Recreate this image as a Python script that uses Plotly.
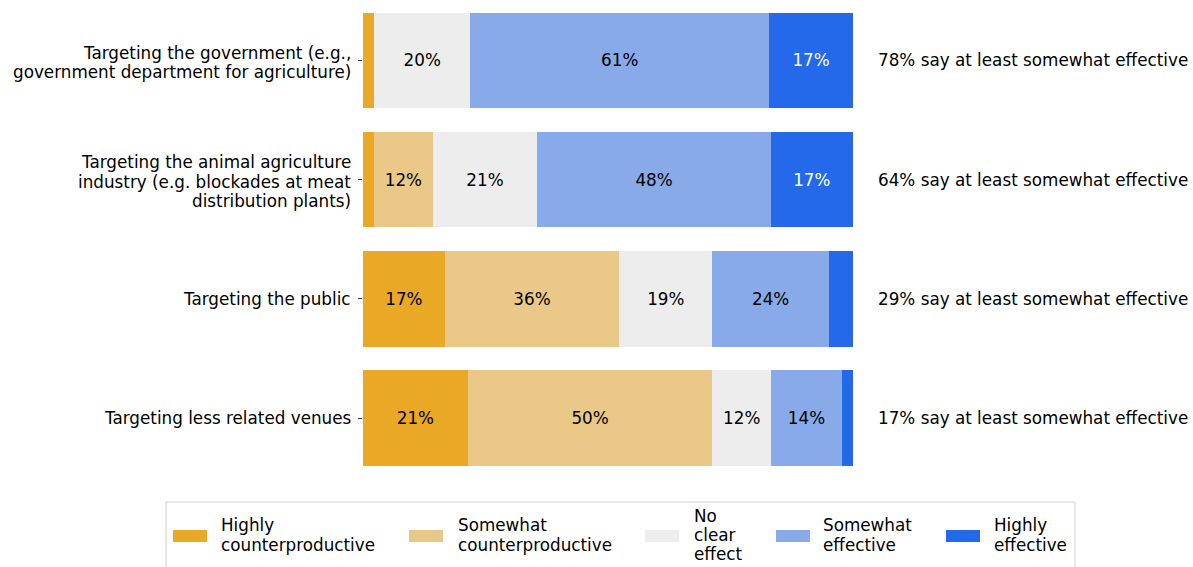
import plotly.graph_objects as go

categories = [
    "Targeting the government (e.g.,<br>government department for agriculture)",
    "Targeting the animal agriculture<br>industry (e.g. blockades at meat<br>distribution plants)",
    "Targeting the public",
    "Targeting less related venues",
]
series_names = [
    "Highly counterproductive",
    "Somewhat counterproductive",
    "No clear effect",
    "Somewhat effective",
    "Highly effective",
]
legend_labels = [
    "Highly<br>counterproductive",
    "Somewhat<br>counterproductive",
    "No<br>clear<br>effect",
    "Somewhat<br>effective",
    "Highly<br>effective",
]
highly_counter = [2.3, 2.3, 16.7, 21.4]
somewhat_counter = [0.0, 11.9, 35.6, 49.9]
no_effect = [19.6, 21.4, 19.0, 12.0]
somewhat_eff = [61.0, 47.6, 23.8, 14.4]
highly_eff = [17.1, 16.8, 4.9, 2.3]

series_values = [highly_counter, somewhat_counter, no_effect, somewhat_eff, highly_eff]
colors = ["#E9A825", "#EAC988", "#EDEDED", "#88AAE9", "#2369E9"]
text_colors = ["black", "black", "black", "black", "white"]

W, H = 1193, 567
ML, MR, MT, MB = 363, 340, 8, 89
PH = H - MT - MB
PW = W - ML - MR
FS = 16.8
LINE = 19.2

def px_x(x):
    return (x - ML) / PW

def px_y(y):
    return (H - MB - y) / PH

FONT = "DejaVu Sans"

fig = go.Figure()
for name, vals, col, tc in zip(series_names, series_values, colors, text_colors):
    fig.add_trace(go.Bar(
        y=list(range(len(categories))), x=vals, orientation="h", name=name,
        marker=dict(color=col, line=dict(width=0)),
        width=0.8,
        text=[f"{round(v)}%" if v >= 10 else "" for v in vals],
        textposition="inside", insidetextanchor="middle", textangle=0,
        constraintext="none",
        insidetextfont=dict(family=FONT, size=FS, color=tc),
        showlegend=False,
    ))

annotations = []
for i, (cat, se, he) in enumerate(zip(categories, somewhat_eff, highly_eff)):
    annotations.append(dict(
        x=1, xref="paper", xshift=23, y=i, yref="y",
        text=f"{round(se + he)}% say at least somewhat effective",
        showarrow=False, xanchor="left", yanchor="middle",
        font=dict(family=FONT, size=FS, color="black"),
    ))
    lines = cat.split("<br>")
    n = len(lines)
    for j, ln in enumerate(lines):
        annotations.append(dict(
            x=0, xref="paper", xshift=-10, y=i, yref="y",
            yshift=((n - 1) / 2 - j) * LINE - (2 if n > 1 else 0),
            text=ln, showarrow=False, xanchor="right", yanchor="middle",
            font=dict(family=FONT, size=FS, color="black"),
        ))

shapes = []
bx0, bx1, by0, by1 = 166, 1075, 502, 600
shapes.append(dict(type="rect", xref="paper", yref="paper",
                   x0=px_x(bx0), x1=px_x(bx1), y0=px_y(by0), y1=px_y(by1),
                   line=dict(color="#D0D0D0", width=1), fillcolor="rgba(255,255,255,0.8)", layer="above"))

patch_x = [173, 409, 645, 776, 946]
text_x = [219, 456, 692, 821, 992]
cy = 535
for lab, col, pxx, tx in zip(legend_labels, colors, patch_x, text_x):
    shapes.append(dict(type="rect", xref="paper", yref="paper",
                       x0=px_x(pxx), x1=px_x(pxx + 34), y0=px_y(cy - 5), y1=px_y(cy + 7),
                       fillcolor=col, line=dict(width=0), layer="above"))
    lines = lab.split("<br>")
    n = len(lines)
    for j, ln in enumerate(lines):
        annotations.append(dict(
            x=px_x(tx), xref="paper", y=px_y(cy + (j - (n - 1) / 2) * LINE), yref="paper",
            text=ln, showarrow=False, xanchor="left", yanchor="middle", align="left",
            font=dict(family=FONT, size=FS, color="black"),
        ))

fig.update_layout(
    width=W, height=H, barmode="stack",
    margin=dict(l=ML, r=MR, t=MT, b=MB, pad=0),
    paper_bgcolor="white", plot_bgcolor="white",
    font=dict(family=FONT, size=FS, color="black"),
    xaxis=dict(range=[0, 100], visible=False, fixedrange=True),
    yaxis=dict(autorange=False, range=[3.502, -0.44], showgrid=False, zeroline=False,
               showline=False, ticks="outside", ticklen=4, tickwidth=1, tickcolor="#333333",
               tickvals=list(range(len(categories))), showticklabels=False, fixedrange=True),
    annotations=annotations, shapes=shapes,
    bargap=0.2,
)

fig.write_html(
    "out.html",
    config={"displayModeBar": False},
    post_script="document.body.style.margin='0';document.body.style.overflow='hidden';",
)
